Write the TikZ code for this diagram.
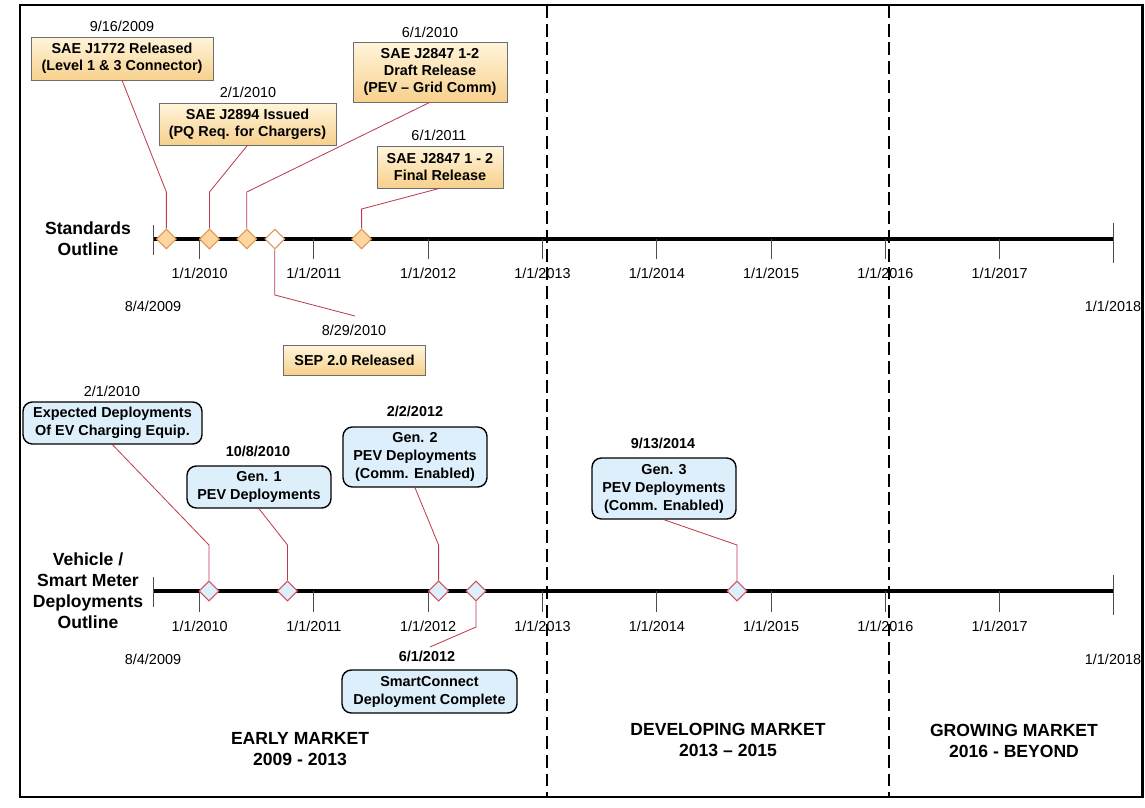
\documentclass[tikz,border=0pt]{standalone}
\usepackage{fontspec}
\setmainfont{Liberation Sans}
\usetikzlibrary{positioning,shapes.geometric}

\definecolor{stdtop}{RGB}{255,245,220}
\definecolor{stdbottom}{RGB}{247,208,140}
\definecolor{stdline}{RGB}{110,110,110}
\definecolor{stdmarkfill}{RGB}{252,214,158}
\definecolor{stdmarkline}{RGB}{222,150,84}
\definecolor{devfill}{RGB}{221,239,250}
\definecolor{devmarkline}{RGB}{208,82,98}
\definecolor{linkred}{RGB}{188,58,78}

\begin{document}
\begin{tikzpicture}[x=0.03cm, y=-0.03cm,
    every node/.style={align=center, inner sep=1pt, font=\fontsize{12.3}{15}\selectfont},
    stdbox/.style={draw=stdline, rectangle, top color=stdtop, bottom color=stdbottom, font=\fontsize{12.3}{14.8}\selectfont\bfseries},
    devbox/.style={draw=black, line width=1.2pt, rectangle, rounded corners=8pt, fill=devfill, font=\fontsize{12.3}{15.4}\selectfont\bfseries},
    stdmark/.style={diamond, draw=stdmarkline, line width=0.9pt, fill=stdmarkfill, minimum size=0.6cm, inner sep=0pt},
    devmark/.style={diamond, draw=devmarkline, line width=0.9pt, fill=devfill, minimum size=0.61cm, inner sep=0pt},
    link/.style={draw=linkred, line width=0.7pt},
    axisline/.style={line width=3pt},
    tickmark/.style={draw=black!70, line width=0.8pt},
    boldlbl/.style={font=\fontsize{12.3}{15}\selectfont\bfseries},
    outline/.style={font=\fontsize{15}{18}\selectfont\bfseries},
    market/.style={font=\fontsize{15}{18}\selectfont\bfseries}]
    \useasboundingbox (0,0) rectangle (1145,807);

    % Frame
    \draw[line width=2.4pt] (20,5) rectangle (1142.5,797);

    % Standards axis
    \draw[axisline] (153,239) -- (1113.5,239);
    \draw[tickmark] (153,225) -- (153,255);
    \draw[tickmark] (1113.5,223) -- (1113.5,263);
    \node[outline] (stdtitle) at (88,239) {Standards\\Outline};

    % Deployment axis
    \draw[axisline] (153,591) -- (1113.5,591);
    \draw[tickmark] (153,577) -- (153,607);
    \draw[tickmark] (1113.5,575) -- (1113.5,615);
    \node[outline] (devtitle) at (88,591) {Vehicle /\\Smart Meter\\Deployments\\Outline};

    % Year ticks on both axes
    \foreach \yr [count=\i from 0] in {2010,...,2017} {
        \draw[tickmark] (199.6+114.3*\i,239) -- ++(0,20);
        \node at (199.6+114.3*\i,273) {1/1/\yr};
        \draw[tickmark] (199.6+114.3*\i,591) -- ++(0,21);
        \node at (199.6+114.3*\i,626) {1/1/\yr};
    }
    \node (stdstart) at (153,306) {8/4/2009};
    \node (stdend) at (1113,306) {1/1/2018};
    \node (devstart) at (153,659) {8/4/2009};
    \node (devend) at (1113,659) {1/1/2018};

    % Standards milestones
    \node[stdmark] (dJ1772) at (166.4,239) {};
    \node[stdmark] (dJ2894) at (209.5,239) {};
    \node[stdmark] (dDraft) at (246.8,239) {};
    \node[stdmark, fill=white] (dSEP) at (274.8,239) {};
    \node[stdmark] (dFinal) at (361.6,239) {};

    \node[stdbox, minimum width=5.46cm, minimum height=1.29cm] (j1772) at (122,58.5) {SAE J1772 Released\\(Level 1 \& 3 Connector)};
    \node (j1772date) at (122,26) {9/16/2009};
    \node[stdbox, minimum width=5.31cm, minimum height=1.26cm] (j2894) at (247.5,124) {SAE J2894 Issued\\(PQ Req. for Chargers)};
    \node (j2894date) at (248,92) {2/1/2010};
    \node[stdbox, minimum width=4.62cm, minimum height=1.8cm] (draft) at (430,72) {SAE J2847 1-2\\Draft Release\\(PEV -- Grid Comm)};
    \node (draftdate) at (430,32) {6/1/2010};
    \node[stdbox, minimum width=3.78cm, minimum height=1.26cm] (final) at (440,167) {SAE J2847 1 - 2\\Final Release};
    \node (finaldate) at (439,135) {6/1/2011};
    \node[stdbox, minimum width=4.26cm, minimum height=0.9cm] (sep) at (354.5,360) {SEP 2.0 Released};
    \node (sepdate) at (354,330) {8/29/2010};

    \coordinate (stdknee) at (0,192);
    \coordinate (finalknee) at (0,209);
    \coordinate (sepknee) at (0,295);
    \coordinate (sepend) at (355,316);
    \draw[link] (j1772.south) -- (dJ1772.north |- stdknee) -- (dJ1772.north);
    \draw[link] (j2894.south) -- (dJ2894.north |- stdknee) -- (dJ2894.north);
    \draw[link] (draft.south) -- (dDraft.north |- stdknee) -- (dDraft.north);
    \draw[link] (final.south) -- (dFinal.north |- finalknee) -- (dFinal.north);
    \draw[link] (dSEP.south) -- (dSEP.south |- sepknee) -- (sepend);

    % Deployment milestones
    \node[devmark] (dEVSE) at (209,591) {};
    \node[devmark] (dGenA) at (287.5,591) {};
    \node[devmark] (dGenB) at (438.6,591) {};
    \node[devmark] (dSmart) at (476,591) {};
    \node[devmark] (dGenC) at (737,591) {};

    \node[devbox, minimum width=5.37cm, minimum height=1.26cm] (evse) at (112.5,423) {Expected Deployments\\Of EV Charging Equip.};
    \node (evsedate) at (112,391) {2/1/2010};
    \node[devbox, minimum width=4.32cm, minimum height=1.26cm] (genA) at (259,487) {Gen. 1\\PEV Deployments};
    \node[boldlbl] (genAdate) at (258,451) {10/8/2010};
    \node[devbox, minimum width=4.32cm, minimum height=1.8cm] (genB) at (415,457) {Gen. 2\\PEV Deployments\\(Comm. Enabled)};
    \node[boldlbl] (genBdate) at (415,411) {2/2/2012};
    \node[devbox, minimum width=4.32cm, minimum height=1.83cm] (genC) at (664,488.5) {Gen. 3\\PEV Deployments\\(Comm. Enabled)};
    \node[boldlbl] (genCdate) at (663,443) {9/13/2014};
    \node[devbox, minimum width=5.25cm, minimum height=1.29cm] (smart) at (429.5,691.5) {SmartConnect\\Deployment Complete};
    \node[boldlbl] (smartdate) at (427,656) {6/1/2012};

    \coordinate (devknee) at (0,545);
    \coordinate (smartknee) at (0,627);
    \coordinate (smartend) at (430,647);
    \draw[link] (evse.south) -- (dEVSE.north |- devknee) -- (dEVSE.north);
    \draw[link] (genA.south) -- (dGenA.north |- devknee) -- (dGenA.north);
    \draw[link] (genB.south) -- (dGenB.north |- devknee) -- (dGenB.north);
    \draw[link] (genC.south) -- (dGenC.north |- devknee) -- (dGenC.north);
    \draw[link] (dSmart.south) -- (dSmart.south |- smartknee) -- (smartend);

    % Market phases
    \draw[line width=1.6pt, dash pattern=on 11pt off 5pt] (547,5) -- (547,797);
    \draw[line width=1.6pt, dash pattern=on 11pt off 5pt] (889,5) -- (889,797);
    \node[market] (early) at (300,749) {EARLY MARKET\\2009 - 2013};
    \node[market] (developing) at (728,740) {DEVELOPING MARKET\\2013 -- 2015};
    \node[market] (growing) at (1014,741) {GROWING MARKET\\2016 - BEYOND};
\end{tikzpicture}
\end{document}
